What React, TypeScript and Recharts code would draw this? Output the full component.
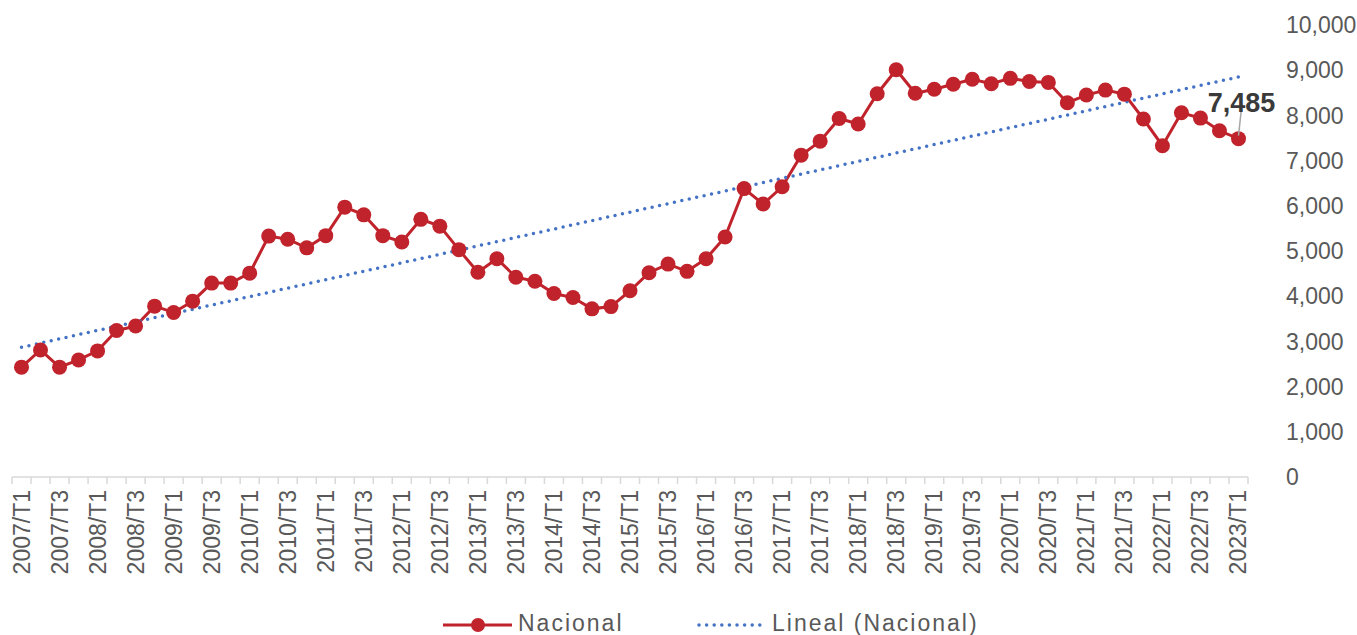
import { LabelList, Legend, Line, LineChart, XAxis, YAxis } from "recharts";

const quarters = [
  "2007/T1", "2007/T2", "2007/T3", "2007/T4",
  "2008/T1", "2008/T2", "2008/T3", "2008/T4",
  "2009/T1", "2009/T2", "2009/T3", "2009/T4",
  "2010/T1", "2010/T2", "2010/T3", "2010/T4",
  "2011/T1", "2011/T2", "2011/T3", "2011/T4",
  "2012/T1", "2012/T2", "2012/T3", "2012/T4",
  "2013/T1", "2013/T2", "2013/T3", "2013/T4",
  "2014/T1", "2014/T2", "2014/T3", "2014/T4",
  "2015/T1", "2015/T2", "2015/T3", "2015/T4",
  "2016/T1", "2016/T2", "2016/T3", "2016/T4",
  "2017/T1", "2017/T2", "2017/T3", "2017/T4",
  "2018/T1", "2018/T2", "2018/T3", "2018/T4",
  "2019/T1", "2019/T2", "2019/T3", "2019/T4",
  "2020/T1", "2020/T2", "2020/T3", "2020/T4",
  "2021/T1", "2021/T2", "2021/T3", "2021/T4",
  "2022/T1", "2022/T2", "2022/T3", "2022/T4",
  "2023/T1",
];

const nacional = [
  2430, 2810, 2430, 2590,
  2790, 3240, 3340, 3780,
  3640, 3890, 4290, 4290,
  4510, 5330, 5260, 5070,
  5340, 5970, 5800, 5340,
  5200, 5700, 5550, 5030,
  4530, 4830, 4420, 4330,
  4060, 3970, 3720, 3770,
  4120, 4520, 4710, 4550,
  4830, 5310, 6380, 6040,
  6420, 7120, 7430, 7930,
  7810, 8480, 9010, 8490,
  8580, 8690, 8800, 8700,
  8820, 8750, 8730, 8280,
  8450, 8560, 8470, 7920,
  7330, 8060, 7940, 7660,
  7485,
];

// trend line ends (first and last quarter)
const trendStart = 2870;
const trendEnd = 8850;

const yTicks = [0, 1000, 2000, 3000, 4000, 5000, 6000, 7000, 8000, 9000, 10000];

const data = quarters.map((q, i) => ({
  q,
  nacional: nacional[i],
  trend: i === 0 ? trendStart : i === quarters.length - 1 ? trendEnd : null,
}));

const W = 1357;
const H = 635;
const FONT = '"Liberation Sans", Arial, sans-serif';
const RED = "#C0232B";
const BLUE = "#4472C4";
const GRID = "#d9d9d9";
const TEXT = "#595959";
const HALF_BAND = 1236 / quarters.length / 2;

function QuarterTick(props: any) {
  const { x, y, payload, index } = props;
  const last = index === quarters.length - 1;
  return (
    <g>
      <line x1={x - HALF_BAND} x2={x - HALF_BAND} y1={y} y2={y + 7} stroke={GRID} strokeWidth={1.5} />
      {last && <line x1={x + HALF_BAND} x2={x + HALF_BAND} y1={y} y2={y + 7} stroke={GRID} strokeWidth={1.5} />}
      {index % 2 === 0 && (
        <text
          x={x}
          y={y + 13}
          transform={`rotate(-90, ${x}, ${y + 13})`}
          textAnchor="end"
          dominantBaseline="central"
          fill={TEXT}
          fontSize={23}
          fontFamily={FONT}
        >
          {payload.value}
        </text>
      )}
    </g>
  );
}

function LastLabel(props: any) {
  const { x, y, value, index } = props;
  if (index !== nacional.length - 1) return null;
  return (
    <g>
      <line x1={x} y1={y - 3} x2={x + 3.5} y2={y - 35} stroke="#a6a6a6" strokeWidth={1.5} />
      <text x={x + 3} y={y - 27} textAnchor="middle" fontSize={27} fontWeight="bold" fill="#3a3a3a" fontFamily={FONT}>
        {Number(value).toLocaleString("en-US")}
      </text>
    </g>
  );
}

function LegendContent() {
  return (
    <svg width={W} height={30} style={{ display: "block" }}>
      <line x1={443} x2={512} y1={20} y2={20} stroke={RED} strokeWidth={3} />
      <circle cx={478} cy={20} r={7} fill={RED} />
      <text x={518} y={26} fontSize={23} letterSpacing={2} fill={TEXT} fontFamily={FONT}>
        Nacional
      </text>
      <line
        x1={699}
        x2={767}
        y1={20}
        y2={20}
        stroke={BLUE}
        strokeWidth={3.5}
        strokeDasharray="0 7.6"
        strokeLinecap="round"
      />
      <text x={772} y={26} fontSize={23} letterSpacing={2} fill={TEXT} fontFamily={FONT}>
        Lineal (Nacional)
      </text>
    </svg>
  );
}

export default function App() {
  return (
    <div style={{ position: "absolute", left: 0, top: 0, width: W, height: H, background: "#fff", fontFamily: FONT }}>
      <LineChart width={W} height={H} data={data} margin={{ top: 25, right: 0, bottom: 0, left: 12 }}>
        <XAxis
          dataKey="q"
          interval={0}
          height={128}
          padding={{ left: HALF_BAND, right: HALF_BAND }}
          axisLine={{ stroke: GRID, strokeWidth: 1.5 }}
          tickLine={false}
          tickSize={0}
          tickMargin={0}
          tick={<QuarterTick />}
        />
        <YAxis
          orientation="right"
          width={109}
          domain={[0, 10000]}
          ticks={yTicks}
          interval={0}
          axisLine={false}
          tickLine={false}
          tickSize={0}
          tickMargin={38}
          tick={{ fill: TEXT, fontSize: 23, fontFamily: FONT }}
          tickFormatter={(v: number) => v.toLocaleString("en-US")}
        />
        <Legend verticalAlign="bottom" height={30} content={<LegendContent />} wrapperStyle={{ left: 0, width: W }} />
        <Line
          dataKey="nacional"
          stroke={RED}
          strokeWidth={3}
          dot={{ r: 7.5, fill: RED, stroke: RED, strokeWidth: 0 }}
          activeDot={false}
          isAnimationActive={false}
        >
          <LabelList dataKey="nacional" content={<LastLabel />} />
        </Line>
        <Line
          dataKey="trend"
          connectNulls
          stroke={BLUE}
          strokeWidth={3.5}
          strokeDasharray="0 7.6"
          strokeLinecap="round"
          dot={false}
          activeDot={false}
          isAnimationActive={false}
        />
      </LineChart>
    </div>
  );
}
